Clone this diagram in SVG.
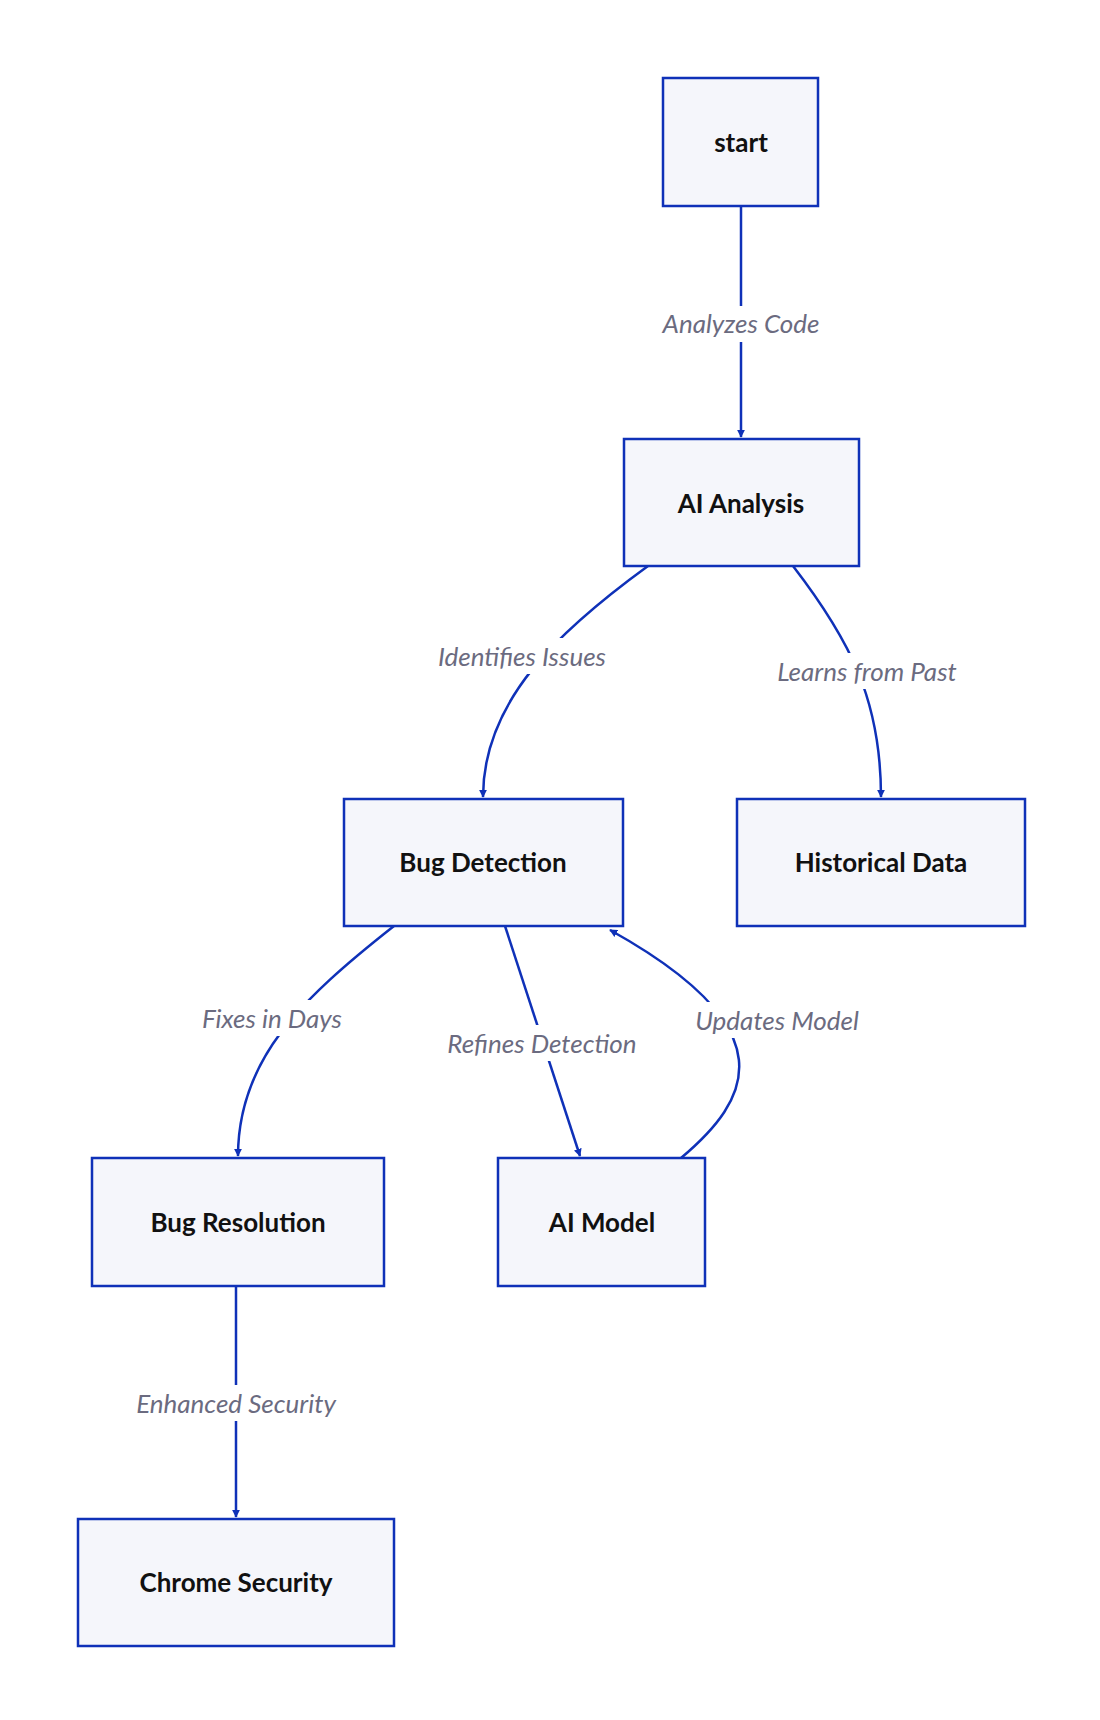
<svg xmlns="http://www.w3.org/2000/svg" width="1100" height="1720" viewBox="0 0 1100 1720">
<defs>
<marker id="ah" viewBox="0 0 10 10" refX="9" refY="5" markerWidth="8" markerHeight="8" markerUnits="userSpaceOnUse" orient="auto"><path d="M0,0L10,5L0,10z" fill="#0f31b8"/></marker>
<style>
.n rect{fill:#f5f6fb;stroke:#0f31b8;stroke-width:2.5}
.n text{font-family:Lato,"Noto Sans",sans-serif;font-weight:bold;font-size:26px;fill:#111;text-anchor:middle;dominant-baseline:central}
.e path{fill:none;stroke:#0f31b8;stroke-width:2.5;marker-end:url(#ah)}
.l rect{fill:#fff}
.l text{font-family:Lato,"Noto Sans",sans-serif;font-style:italic;font-size:26px;fill:#6b6b80;text-anchor:middle;dominant-baseline:central}
</style>
</defs>
<rect width="1100" height="1720" fill="#fff"/>
<g id="connectors">
<g class="e">
<path d="M741,206 L741,437" style="marker-end:url(#ah)"/>
<path d="M648,566 C560,630 483,700 483,797"/>
<path d="M793,566 C850,640 881,700 881,797"/>
<path d="M394,926 C300,1000 238,1060 238,1156"/>
<path d="M505,926 L580,1156"/>
<path d="M681,1158 C750,1100 790,1030 610,930"/>
<path d="M236,1286 L236,1517"/>
</g>
<g class="l">
<rect x="650" y="306" width="182" height="36"/><text x="741" y="323">Analyzes Code</text>
<rect x="424" y="638" width="196" height="36"/><text x="522" y="656">Identifies Issues</text>
<rect x="762" y="653" width="210" height="36"/><text x="867" y="671">Learns from Past</text>
<rect x="190" y="1000" width="164" height="36"/><text x="272" y="1018">Fixes in Days</text>
<rect x="432" y="1025" width="220" height="36"/><text x="542" y="1043">Refines Detection</text>
<rect x="684" y="1002" width="186" height="36"/><text x="777" y="1020">Updates Model</text>
<rect x="118" y="1385" width="236" height="36"/><text x="236" y="1403">Enhanced Security</text>
</g>
</g>
<g id="start" class="n"><rect x="663" y="78" width="155" height="128"/><text x="741" y="142">start</text></g>
<g id="ai" class="n"><rect x="624" y="439" width="235" height="127"/><text x="741" y="503">AI Analysis</text></g>
<g id="bugdet" class="n"><rect x="344" y="799" width="279" height="127"/><text x="483" y="862">Bug Detection</text></g>
<g id="hist" class="n"><rect x="737" y="799" width="288" height="127"/><text x="881" y="862">Historical Data</text></g>
<g id="bugres" class="n"><rect x="92" y="1158" width="292" height="128"/><text x="238" y="1222">Bug Resolution</text></g>
<g id="aimodel" class="n"><rect x="498" y="1158" width="207" height="128"/><text x="602" y="1222">AI Model</text></g>
<g id="chrome" class="n"><rect x="78" y="1519" width="316" height="127"/><text x="236" y="1582">Chrome Security</text></g>
</svg>
